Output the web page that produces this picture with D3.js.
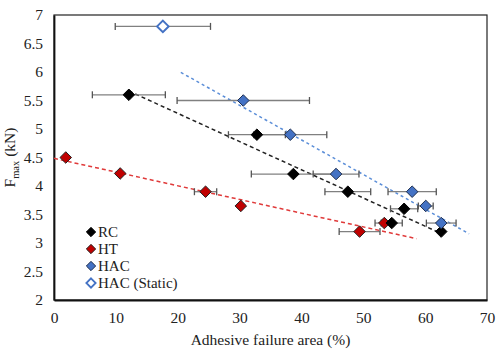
<!DOCTYPE html>
<html>
<head>
<meta charset="utf-8">
<script src="https://cdn.jsdelivr.net/npm/d3@7"></script>
<style>
  body { margin: 0; background: white; }
  text { font-family: "Liberation Serif", "Times New Roman", serif; fill: #222; }
</style>
</head>
<body>
<div id="chart"></div>
<script>
// series: adhesive failure area (%), Fmax (kN), error (+/- %)
const rcX   = [12.1, 32.8, 38.7, 47.5, 56.6, 54.6, 62.6];
const rcY   = [5.6, 4.9, 4.21, 3.9, 3.6, 3.35, 3.2];
const rcErr = [5.9, 4.6, 6.8, 3.7, 2.2, 1.7, 0];

const htX   = [1.9, 10.7, 24.5, 30.2, 53.4, 49.4];
const htY   = [4.5, 4.22, 3.9, 3.65, 3.35, 3.2];
const htErr = [0, 0, 1.8, 0, 1.5, 3.3];

const hacX   = [30.6, 38.2, 45.6, 57.9, 60.1, 62.6];
const hacY   = [5.5, 4.9, 4.21, 3.9, 3.65, 3.35];
const hacErr = [10.7, 5.9, 3.7, 3.9, 1.2, 2.4];

const staticX   = [17.6];
const staticY   = [6.8];
const staticErr = [7.7];

// trendline extents (x range drawn)
const rcTrend  = [12.1, 62.6];
const htTrend  = [0, 58.6];
const hacTrend = [20.5, 67.1];

const xTicks = [0, 10, 20, 30, 40, 50, 60, 70];
const yTicks = [2, 2.5, 3, 3.5, 4, 4.5, 5, 5.5, 6, 6.5, 7];
const legendNames = ['RC', 'HT', 'HAC', 'HAC (Static)'];

const w = 503, h = 351;
const margin = {left: 54, top: 15, right: 16, bottom: 51};

const svg = d3.select('#chart').append('svg')
  .attr('width', w).attr('height', h);

const x = d3.scaleLinear().domain([0, 70]).range([margin.left, w - margin.right]);
const y = d3.scaleLinear().domain([2, 7]).range([h - margin.bottom, margin.top]);

// frame
svg.append('rect')
  .attr('x', x(0)).attr('y', y(7))
  .attr('width', x(70) - x(0)).attr('height', y(2) - y(7))
  .attr('fill', 'none').attr('stroke', '#222').attr('stroke-width', 1.2);

// axes (labels only)
const xAxis = svg.append('g')
  .attr('transform', `translate(0,${y(2)})`)
  .call(d3.axisBottom(x).tickValues(xTicks).tickSize(0).tickPadding(12));
const yAxis = svg.append('g')
  .attr('transform', `translate(${x(0)},0)`)
  .call(d3.axisLeft(y).tickValues(yTicks).tickSize(0).tickPadding(11).tickFormat(d3.format('')));
[xAxis, yAxis].forEach(a => {
  a.select('.domain').attr('stroke', '#111').attr('stroke-width', 1.8);
  a.selectAll('text').style('font-family', '"Liberation Serif", serif').style('font-size', '15.5px').attr('fill', '#222');
});

// axis titles
svg.append('text')
  .attr('x', (x(0) + x(70)) / 2).attr('y', 345)
  .attr('text-anchor', 'middle').style('font-size', '15.5px')
  .text('Adhesive failure area (%)');

const yl = svg.append('text')
  .attr('transform', `translate(15,${(y(2) + y(7)) / 2}) rotate(-90)`)
  .attr('text-anchor', 'middle').style('font-size', '15.5px');
yl.append('tspan').text('F');
yl.append('tspan').attr('dy', 4).style('font-size', '10.5px').text('max');
yl.append('tspan').attr('dy', -4).text(' (kN)');

// regression helper for trendlines
function fit(xs, ys) {
  const mx = d3.mean(xs), my = d3.mean(ys);
  let sxy = 0, sxx = 0;
  xs.forEach((v, i) => { sxy += (v - mx) * (ys[i] - my); sxx += (v - mx) * (v - mx); });
  const b = sxy / sxx;
  return t => my + b * (t - mx);
}

function trend(xs, ys, range, color, dash) {
  const f = fit(xs, ys);
  svg.append('line')
    .attr('x1', x(range[0])).attr('y1', y(f(range[0])))
    .attr('x2', x(range[1])).attr('y2', y(f(range[1])))
    .attr('stroke', color).attr('stroke-width', 1.5)
    .attr('stroke-dasharray', dash);
}

trend(htX, htY, htTrend, '#e03a3a', '4,3');
trend(rcX, rcY, rcTrend, '#222', '4,3');
trend(hacX, hacY, hacTrend, '#5b8ed8', '3,3');

// error bars
function errBars(xs, ys, es) {
  const g = svg.append('g').attr('stroke', '#808080').attr('stroke-width', 1.3);
  xs.forEach((v, i) => {
    if (!es[i]) return;
    const x1 = x(v - es[i]), x2 = x(v + es[i]), yy = y(ys[i]);
    g.append('line').attr('x1', x1).attr('x2', x2).attr('y1', yy).attr('y2', yy);
    g.append('line').attr('x1', x1).attr('x2', x1).attr('y1', yy - 3.5).attr('y2', yy + 3.5).attr('stroke', '#555');
    g.append('line').attr('x1', x2).attr('x2', x2).attr('y1', yy - 3.5).attr('y2', yy + 3.5).attr('stroke', '#555');
  });
}
errBars(rcX, rcY, rcErr);
errBars(htX, htY, htErr);
errBars(hacX, hacY, hacErr);
errBars(staticX, staticY, staticErr);

const diamond = d3.symbol().type(d3.symbolDiamond2).size(85);

function points(xs, ys, fill, stroke, sw) {
  svg.append('g').selectAll('path')
    .data(xs.map((v, i) => [v, ys[i]]))
    .enter().append('path')
    .attr('d', diamond)
    .attr('transform', d => `translate(${x(d[0])},${y(d[1])})`)
    .attr('fill', fill).attr('stroke', stroke).attr('stroke-width', sw);
}
points(htX, htY, '#c00000', '#222', 1);
points(rcX, rcY, '#000', '#000', 1);
points(hacX, hacY, '#4472c4', '#1f2f4f', 1);
points(staticX, staticY, '#fff', '#4472c4', 2);

// legend
const legStyles = [
  {fill: '#000', stroke: '#000', sw: 1},
  {fill: '#c00000', stroke: '#222', sw: 1},
  {fill: '#4472c4', stroke: '#1f2f4f', sw: 1},
  {fill: '#fff', stroke: '#4472c4', sw: 1.8}
];
const leg = svg.append('g');
legendNames.forEach((name, i) => {
  const ly = 232 + i * 17;
  leg.append('path')
    .attr('d', d3.symbol().type(d3.symbolDiamond2).size(55))
    .attr('transform', `translate(91,${ly})`)
    .attr('fill', legStyles[i].fill).attr('stroke', legStyles[i].stroke)
    .attr('stroke-width', legStyles[i].sw);
  leg.append('text')
    .attr('x', 98).attr('y', ly + 5)
    .style('font-size', '15px')
    .text(name);
});
</script>
</body>
</html>
